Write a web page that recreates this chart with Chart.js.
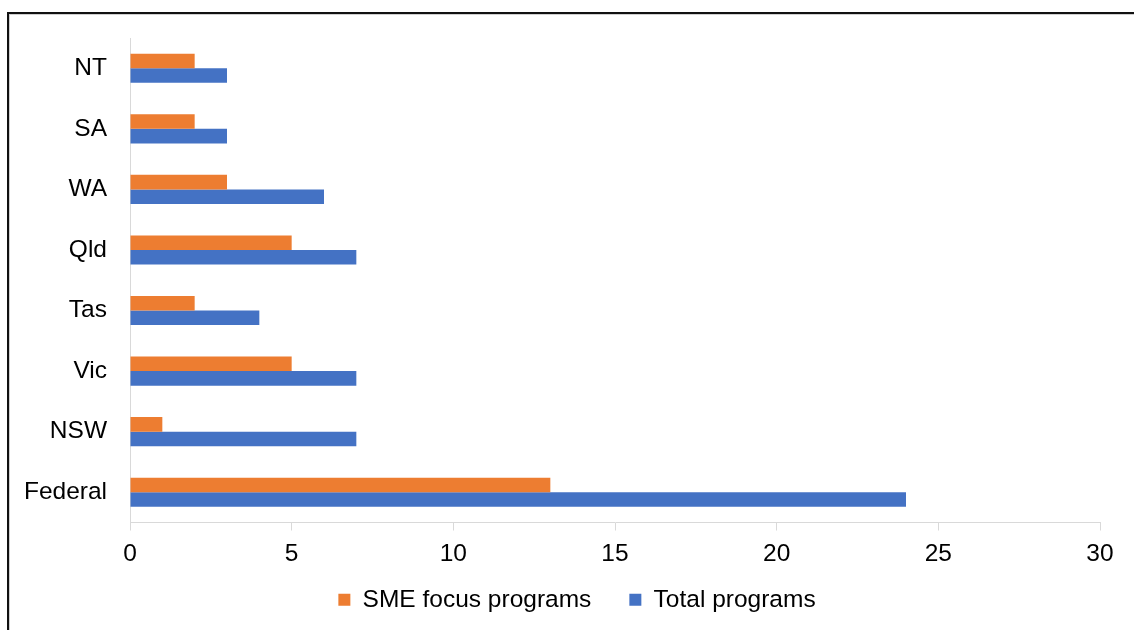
<!DOCTYPE html>
<html>
<head>
<meta charset="utf-8">
<title>SME focus programs vs total programs</title>
<script src="https://cdn.jsdelivr.net/npm/chart.js@4"></script>
<style>
    html, body { margin: 0; padding: 0; background: #fff; overflow: hidden; }
    #frame {
        position: absolute; left: 7px; top: 12px; width: 1200px; height: 700px;
        border-left: 2px solid #111; border-top: 2px solid #111;
        box-shadow: inset 1px 1px 0 #cfcfcf;
    }
    #chart { position: absolute; left: 0; top: 0; }
</style>
</head>
<body>
<div id="frame"></div>
<canvas id="chart" width="1134" height="630"></canvas>
<script>
// Dados do gráfico
const categories = ['NT', 'SA', 'WA', 'Qld', 'Tas', 'Vic', 'NSW', 'Federal'];
const smeFocus = [2, 2, 3, 5, 2, 5, 1, 13];
const totalPrograms = [3, 3, 6, 7, 4, 7, 7, 24];
const xTicks = [0, 5, 10, 15, 20, 25, 30];

const ORANGE = '#ED7D31';
const BLUE = '#4472C4';
const AXIS_GREY = '#d9d9d9';
const FONT = { family: '"Liberation Sans", Arial, sans-serif', size: 24.5 };

Chart.defaults.font.family = FONT.family;
Chart.defaults.color = '#000';

// Ajusta a legenda (um pouco à direita) e deixa espaço para os rótulos do eixo x
const layoutTweaks = {
    id: 'layoutTweaks',
    afterLayout(chart) {
        const legend = chart.legend;
        legend.left += 27;
        legend.right += 27;
        chart.scales.x.bottom = chart.height;
    }
};

const ctx = document.getElementById('chart').getContext('2d');
new Chart(ctx, {
    type: 'bar',
    data: {
        labels: categories,
        datasets: [
            {
                label: 'SME focus programs',
                data: smeFocus,
                backgroundColor: ORANGE,
                categoryPercentage: 0.48,
                barPercentage: 1
            },
            {
                label: 'Total programs',
                data: totalPrograms,
                backgroundColor: BLUE,
                categoryPercentage: 0.48,
                barPercentage: 1
            }
        ]
    },
    plugins: [layoutTweaks],
    options: {
        indexAxis: 'y',
        responsive: false,
        animation: false,
        layout: { padding: { top: 38, left: 0, right: 34, bottom: 8 } },
        scales: {
            x: {
                min: 0,
                max: 30,
                afterBuildTicks: (scale) => {
                    scale.ticks = xTicks.map(v => ({ value: v }));
                },
                afterFit: (scale) => { scale.height = 27; },
                grid: {
                    drawOnChartArea: false,
                    drawTicks: true,
                    tickLength: 8,
                    color: AXIS_GREY
                },
                border: { display: true, color: AXIS_GREY, width: 1 },
                ticks: { font: FONT, color: '#000', padding: 9, maxRotation: 0 }
            },
            y: {
                afterFit: (scale) => { scale.width = 130; },
                grid: { drawOnChartArea: false, drawTicks: false },
                border: { display: true, color: AXIS_GREY, width: 1 },
                ticks: { font: FONT, color: '#000', padding: 23 }
            }
        },
        plugins: {
            legend: {
                position: 'bottom',
                labels: {
                    boxWidth: 12,
                    boxHeight: 12,
                    padding: 38,
                    color: '#000',
                    font: FONT
                }
            },
            tooltip: { enabled: false }
        }
    }
});
</script>
</body>
</html>
